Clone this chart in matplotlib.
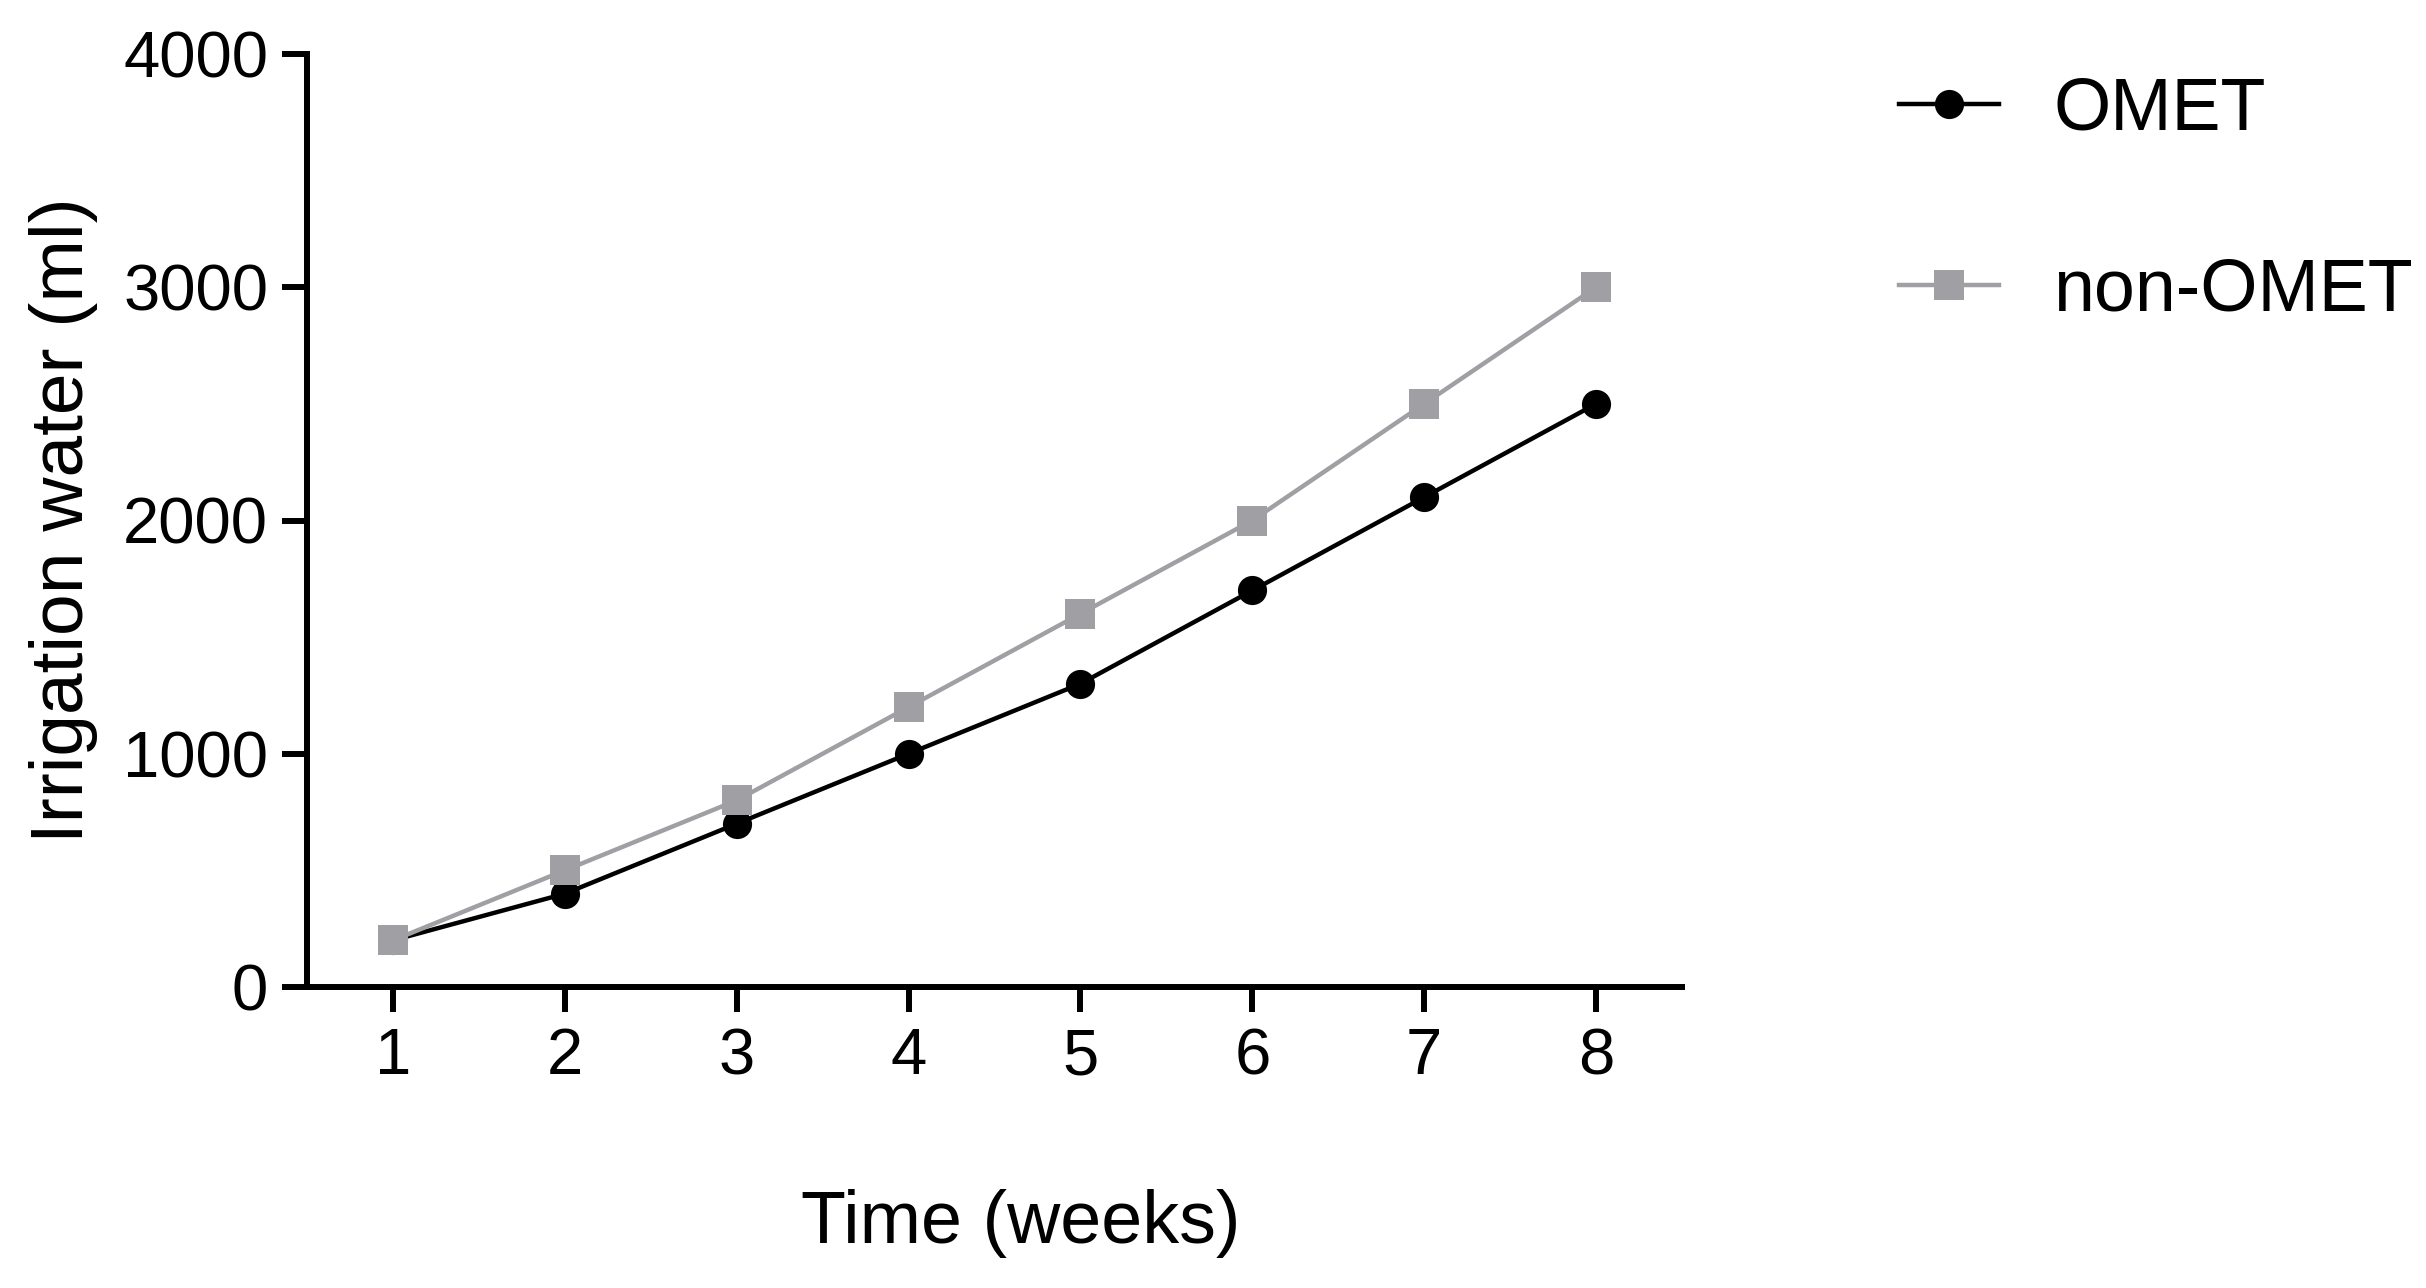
import matplotlib
matplotlib.use("Agg")
import matplotlib.pyplot as plt

weeks = [1, 2, 3, 4, 5, 6, 7, 8]
omet = [200, 400, 700, 1000, 1300, 1700, 2100, 2500]
non_omet = [200, 500, 800, 1200, 1600, 2000, 2500, 3000]
yticks = [0, 1000, 2000, 3000, 4000]
series_names = ["OMET", "non-OMET"]

plt.rcParams['font.family'] = ['Liberation Sans', 'DejaVu Sans']

W, H = 2426, 1288
fig = plt.figure(figsize=(W / 100, H / 100), dpi=100)
ax = fig.add_axes([307 / W, 1 - 987 / H, 1375 / W, 933 / H])

gray = '#a0a0a4'
ax.plot(weeks, omet, color='black', lw=3.2, marker='o', ms=21, mew=0,
        label=series_names[0], clip_on=False, zorder=3)
ax.plot(weeks, non_omet, color=gray, lw=3.2, marker='s', ms=21, mew=0,
        label=series_names[1], clip_on=False, zorder=4)

ax.set_xlim(0.5, 8.5)
ax.set_ylim(0, 4000)
ax.set_xticks(weeks)
ax.set_yticks(yticks)
for s in ['top', 'right']:
    ax.spines[s].set_visible(False)
for s in ['left', 'bottom']:
    ax.spines[s].set_linewidth(4.3)
    ax.spines[s].set_capstyle('projecting')
ax.tick_params(axis='both', width=4.3, length=18, labelsize=47, color='black')
ax.tick_params(axis='y', pad=10)
ax.tick_params(axis='x', pad=11)

ax.set_xlabel('Time (weeks)', fontsize=53, va='center')
ax.xaxis.set_label_coords((1021 - 307) / 1375, (987 - 1224) / 933)
ax.set_ylabel('Irrigation water (ml)', fontsize=54, va='center', ha='center')
ax.yaxis.set_label_coords((63 - 307) / 1375, 0.5)

leg = ax.legend(loc='upper left', bbox_to_anchor=(1899 / W, 1 - 76 / H),
                bbox_transform=fig.transFigure, frameon=False, fontsize=53,
                numpoints=1, handlelength=1.36, handletextpad=0.74,
                labelspacing=1.52, borderpad=0, borderaxespad=0)

fig.savefig('out.png', dpi=100)
